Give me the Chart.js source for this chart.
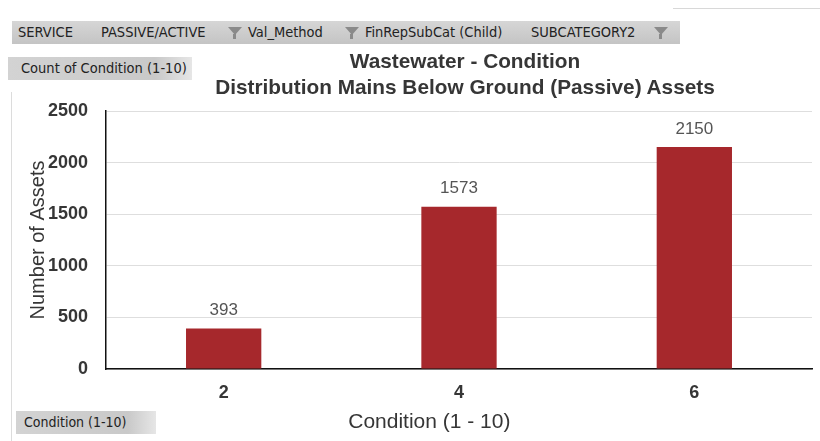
<!DOCTYPE html>
<html>
<head>
<meta charset="utf-8">
<script src="https://cdn.jsdelivr.net/npm/chart.js@4/dist/chart.umd.min.js"></script>
<style>
  html, body { margin: 0; padding: 0; background: #ffffff; }
  #wrap { position: relative; width: 820px; height: 441px; overflow: hidden; background: #fff; }
  #chart { position: absolute; left: 0; top: 0; }
  .edge { position: absolute; left: 11px; top: 92px; width: 1px; height: 349px; background: #dcdcdc; }
  .topline { position: absolute; left: 673px; top: 8px; width: 147px; height: 1px; background: #d8d8d8; }
  .bar { position: absolute; left: 12px; top: 21px; width: 668px; height: 23px;
         background: linear-gradient(#d6d6d6, #c4c4c4); }
  .btn { position: absolute; font-family: "DejaVu Sans Condensed", "Liberation Sans Narrow", "DejaVu Sans", sans-serif;
         font-size: 14.5px; color: #222; white-space: nowrap; line-height: 23px; }
  .funnel { position: absolute; width: 0; height: 0; border-left: 7px solid transparent;
            border-right: 7px solid transparent; border-top: 8px solid #8a8a8a; }
  .stem { position: absolute; width: 3px; height: 5px; background: #8a8a8a; }
  .pill { position: absolute; background: linear-gradient(90deg, #d3d3d3, #c9c9c9 80%, #e6e6e6);
          font-family: "DejaVu Sans Condensed", "Liberation Sans Narrow", "DejaVu Sans", sans-serif;
          color: #222; line-height: 23px; box-sizing: border-box; white-space: nowrap; }
  .title { position: absolute; left: 165px; width: 600px; text-align: center; line-height: 24px;
           font-family: "Liberation Sans", Arial, sans-serif; font-weight: bold; font-size: 20.8px; color: #363636; }
</style>
</head>
<body>
<div id="wrap">
  <canvas id="chart" width="820" height="441"></canvas>
  <div class="edge"></div>
  <div class="topline"></div>
  <div class="bar"></div>
  <div class="btn" style="left:18px;top:21px;">SERVICE</div>
  <div class="btn" style="left:101px;top:21px;">PASSIVE/ACTIVE</div>
  <div class="funnel" style="left:228px;top:27px;"></div><div class="stem" style="left:233px;top:34px;"></div>
  <div class="btn" style="left:248px;top:21px;">Val_Method</div>
  <div class="funnel" style="left:345px;top:27px;"></div><div class="stem" style="left:350px;top:34px;"></div>
  <div class="btn" style="left:365px;top:21px;">FinRepSubCat (Child)</div>
  <div class="btn" style="left:531px;top:21px;">SUBCATEGORY2</div>
  <div class="funnel" style="left:654px;top:27px;"></div><div class="stem" style="left:659px;top:34px;"></div>
  <div class="pill" style="left:8px;top:57px;width:184px;height:23px;padding-left:13px;font-size:14.5px;">Count of Condition (1-10)</div>
  <div class="pill" style="left:16px;top:411px;width:140px;height:23px;padding-left:8px;font-size:14px;">Condition (1-10)</div>
  <div class="title" style="top:49px;">Wastewater - Condition</div>
  <div class="title" style="top:75px;">Distribution Mains Below Ground (Passive) Assets</div>
</div>
<script>
// Condition grades and asset counts
const conditions = ['2', '4', '6'];
const assetCounts = [393, 1573, 2150];
const yTicks = [0, 500, 1000, 1500, 2000, 2500];
const xAxisTitle = 'Condition (1 - 10)';

const barColor = '#a6282c';
const textColor = '#363636';
const fontFamily = '"Liberation Sans", Arial, sans-serif';

// Count labels above each bar, plus the category axis caption (set left of centre)
const annotations = {
  id: 'annotations',
  afterDatasetsDraw(chart) {
    const ctx = chart.ctx;
    const meta = chart.getDatasetMeta(0);
    ctx.save();
    ctx.font = '17px ' + fontFamily;
    ctx.fillStyle = '#555555';
    ctx.textAlign = 'center';
    ctx.textBaseline = 'middle';
    meta.data.forEach((bar, i) => {
      ctx.fillText(String(assetCounts[i]), bar.x, bar.y - 18);
    });
    const x = chart.scales.x;
    ctx.font = '21px ' + fontFamily;
    ctx.fillStyle = textColor;
    ctx.fillText(xAxisTitle, x.left + x.width * 0.458, x.bottom - 19);
    ctx.restore();
  }
};

new Chart(document.getElementById('chart'), {
  type: 'bar',
  data: {
    labels: conditions,
    datasets: [{
      data: assetCounts,
      backgroundColor: barColor,
      borderWidth: 0,
      barPercentage: 0.64,
      categoryPercentage: 0.5
    }]
  },
  options: {
    responsive: false,
    animation: false,
    devicePixelRatio: 1,
    layout: { padding: { top: 111, right: 8, bottom: 0, left: 0 } },
    plugins: {
      legend: { display: false },
      tooltip: { enabled: false },
      title: { display: false }
    },
    scales: {
      x: {
        grid: { display: false, drawTicks: false },
        border: { display: true, color: '#111111', width: 1.5 },
        ticks: {
          color: textColor,
          padding: 13,
          font: { family: fontFamily, size: 18, weight: 'bold' }
        },
        title: { display: false },
        afterFit(scale) { scale.height = 72; }
      },
      y: {
        min: 0,
        max: 2500,
        afterBuildTicks(scale) { scale.ticks = yTicks.map(v => ({ value: v })); },
        grid: { color: '#dedede', lineWidth: 1, drawTicks: false },
        border: { display: true, color: '#111111', width: 1.5 },
        ticks: {
          color: textColor,
          padding: 18,
          callback: (v) => String(v),
          font: { family: fontFamily, size: 18, weight: 'bold' }
        },
        title: {
          display: true,
          text: 'Number of Assets',
          color: textColor,
          padding: { top: 26, bottom: 0 },
          font: { family: fontFamily, size: 20 }
        },
        afterFit(scale) { scale.width = 106; }
      }
    }
  },
  plugins: [annotations]
});
</script>
</body>
</html>
